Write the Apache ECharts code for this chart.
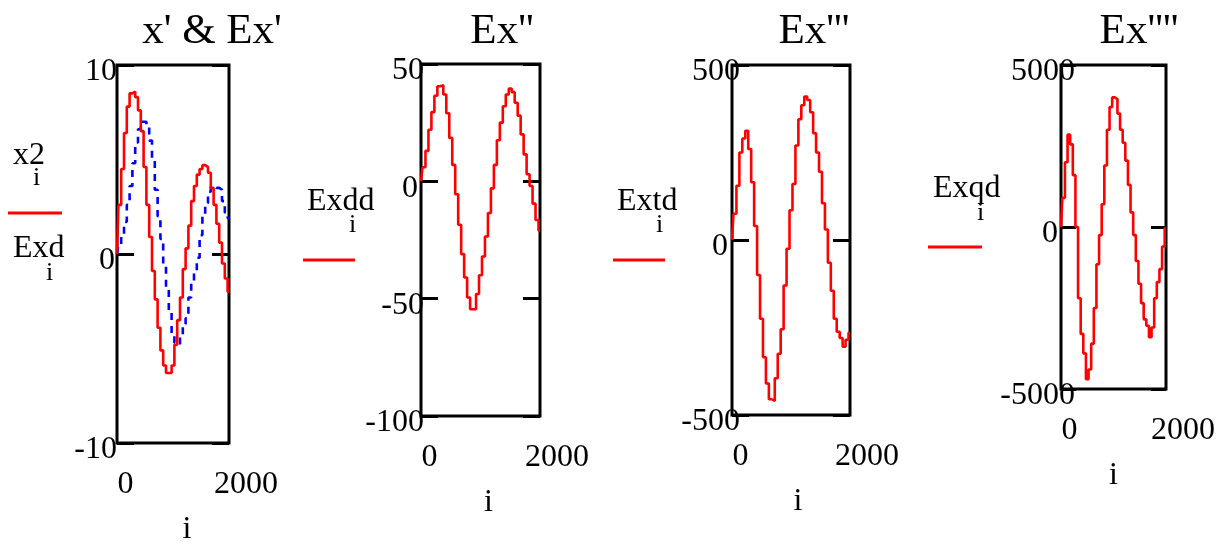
<html>
<head>
    <meta http-equiv="Content-Type" content="text/html; charset=utf-8" />
</head>
<script type="text/javascript" src="https://cdn.jsdelivr.net/npm/echarts@6/dist/echarts.min.js"></script>
<body style="margin:0">
<div id="main" style="width: 1229px;height:544px;"></div>
</body>
<script type="text/javascript">
    // index i
    var idx = [0, 50, 100, 150, 200, 250, 300, 350, 400, 450, 500, 550, 600, 650, 700, 750, 800, 850, 900, 950,
        1000, 1050, 1100, 1150, 1200, 1250, 1300, 1350, 1400, 1450, 1500, 1550, 1600, 1650, 1700, 1750, 1800,
        1850, 1900, 1950, 2000];

    // x' (x2) and Ex' (Exd)
    var x2 = [0, 2.6, 4.5, 6.4, 7.8, 8.5, 8.6, 8.3, 7.6, 6.5, 4.6, 2.6, 0.9, -0.9, -2.4, -3.9, -5.1, -5.9, -6.3, -6.3,
        -5.9, -4.8, -3.5, -2.3, -0.8, 0.3, 1.5, 2.8, 3.6, 4.2, 4.5, 4.7, 4.6, 4.3, 3.5, 2.6, 1.6, 0.6, -0.5, -1.3, -2.0];
    var exd = [0, 0.5, 1.0, 1.7, 2.6, 3.6, 4.8, 5.9, 6.6, 7.0, 7.0, 6.7, 6.0, 5.0, 3.4, 2.0, 0.8, -0.6, -1.8, -3.1,
        -4.2, -4.7, -4.8, -4.4, -3.7, -3.4, -2.3, -1.5, -0.9, -0.2, 1.0, 2.0, 2.7, 3.3, 3.6, 3.5, 3.5, 3.4, 2.8, 2.2, 1.9];
    // Ex''
    var exdd = [0, 6, 13, 22, 29.5, 36.5, 40.5, 41, 37, 29, 18.5, 7, -5.5, -18.5, -31, -41, -49.5, -54.5, -54.5, -48,
        -40, -32, -23.5, -13.5, -3, 7, 17.5, 25, 32, 37, 39.5, 38, 33.5, 28, 20, 11.5, 3, -2, -9.5, -16.5, -21];
    // Ex'''
    var extd = [0, 75, 155, 250, 290, 312, 260, 165, 40, -100, -225, -335, -410, -455, -460, -395, -325, -255, -130, -25,
        85, 160, 270, 345, 385, 410, 400, 365, 305, 250, 195, 105, 30, -65, -145, -225, -262, -280, -305, -285, -265];
    // Ex''''
    var exqd = [0, 900, 2000, 2850, 2550, 1600, 0, -2200, -3300, -3900, -4700, -4400, -3600, -2500, -1150, -250, 700,
        1900, 3000, 3700, 4000, 3950, 3500, 3000, 2600, 2050, 1300, 450, -250, -1050, -1750, -2350, -2850, -3050,
        -3400, -3100, -2200, -1700, -1300, -600, -30];

    var titles = ["x' & Ex'", "Ex''", "Ex'''", "Ex''''"];
    var yMin = [-10, -100, -500, -5000];
    var yMax = [10, 50, 500, 5000];
    var yStep = [10, 50, 500, 5000];

    var FONT = 'Liberation Serif';
    var boxes = [
        {left: 117, top: 65, width: 112, height: 378, tick: 17, margin: 0, zpad: 2, iPad: 28, titleX: 207},
        {left: 421, top: 64, width: 119, height: 352, tick: 17, margin: -3, zpad: 6, iPad: 16, titleX: 497},
        {left: 732, top: 65, width: 118, height: 350, tick: 17, margin: -8, zpad: 12, iPad: 14, titleX: 809},
        {left: 1061, top: 65, width: 105, height: 324, tick: 15, margin: -14, zpad: 17, iPad: 0, titleX: 1134}
    ];

    function pairs(ys) {
        var out = [];
        for (var k = 0; k < idx.length; k++) {
            out.push([idx[k], ys[k]]);
        }
        return out;
    }

    var grid = [], xAxis = [], yAxis = [], title = [];
    for (var g = 0; g < 4; g++) {
        var b = boxes[g];
        grid.push({
            left: b.left, top: b.top, width: b.width, height: b.height,
            containLabel: false, outerBoundsMode: 'none',
            show: true, borderColor: '#000', borderWidth: 3, backgroundColor: 'transparent'
        });
        title.push({
            text: titles[g], left: b.titleX, top: 5, textAlign: 'center',
            textStyle: {fontFamily: FONT, fontSize: 43, fontWeight: 'normal', color: '#000'}
        });
        xAxis.push({
            type: 'value', gridIndex: g, min: 0, max: 2000, interval: 2000,
            name: 'i', nameLocation: 'middle', nameGap: 71,
            nameTextStyle: {fontFamily: FONT, fontSize: 32, color: '#000', padding: [0, 0, 0, b.iPad]},
            axisLine: {show: false}, axisTick: {show: false}, splitLine: {show: false},
            axisLabel: {
                margin: 26, showMinLabel: true, showMaxLabel: true,
                fontFamily: FONT, fontSize: 32, color: '#000',
                formatter: function (v) { return v === 0 ? '{l|0}' : '{r|' + v + '}'; },
                rich: {
                    l: {fontFamily: FONT, fontSize: 32, color: '#000', padding: [0, 0, 0, 17]},
                    r: {fontFamily: FONT, fontSize: 32, color: '#000', padding: [0, 0, 0, 34]}
                }
            }
        });
    }
    // left y axes
    for (var g = 0; g < 4; g++) {
        var b = boxes[g];
        yAxis.push({
            type: 'value', gridIndex: g, min: yMin[g], max: yMax[g], interval: yStep[g],
            axisLine: {show: false}, splitLine: {show: false},
            axisTick: {show: true, inside: true, length: b.tick, lineStyle: {color: '#000', width: 3}},
            axisLabel: {
                margin: b.margin, showMinLabel: true, showMaxLabel: true,
                fontFamily: FONT, fontSize: 32, color: '#000',
                formatter: function (v) { return v === 0 ? '{z|0}' : '{a|' + v + '}'; },
                rich: {
                    a: {fontFamily: FONT, fontSize: 32, color: '#000', padding: [14, 0, 0, 0]},
                    z: {fontFamily: FONT, fontSize: 32, color: '#000', padding: [14, b.zpad, 0, 0]}
                }
            }
        });
    }
    // right y axes (ticks only)
    for (var g = 0; g < 4; g++) {
        yAxis.push({
            type: 'value', gridIndex: g, position: 'right', min: yMin[g], max: yMax[g], interval: yStep[g],
            axisLine: {show: false}, splitLine: {show: false}, axisLabel: {show: false},
            axisTick: {show: true, inside: true, length: boxes[g].tick, lineStyle: {color: '#000', width: 3}}
        });
    }

    function redLine(g, ys) {
        return {
            type: 'line', xAxisIndex: g, yAxisIndex: g, data: pairs(ys), step: 'middle',
            showSymbol: false, lineStyle: {color: '#ff0000', width: 2.6}, z: 3
        };
    }

    var series = [
        {
            type: 'line', xAxisIndex: 0, yAxisIndex: 0, data: pairs(exd), step: 'middle',
            showSymbol: false, lineStyle: {color: '#0000ff', width: 2.6, type: [7, 6]}, z: 2
        },
        redLine(0, x2),
        redLine(1, exdd),
        redLine(2, extd),
        redLine(3, exqd)
    ];

    // Mathcad style trace labels at the left of each plot
    function label(txt, x, y, size) {
        return {type: 'text', x: x, y: y, style: {text: txt, fill: '#000', font: size + 'px "' + FONT + '"', textVerticalAlign: 'middle'}};
    }
    function trace(x1, x2p, y) {
        return {type: 'line', shape: {x1: x1, y1: y, x2: x2p, y2: y}, style: {stroke: '#ff0000', lineWidth: 3}};
    }
    var graphic = [
        label('x2', 13, 156, 32), label('i', 33, 178, 26), trace(8, 62, 213),
        label('Exd', 13, 249, 32), label('i', 46, 273, 26),
        label('Exdd', 307, 202, 32), label('i', 349, 225, 26), trace(303, 355, 260),
        label('Extd', 617, 202, 32), label('i', 656, 225, 26), trace(613, 665, 260),
        label('Exqd', 933, 189, 32), label('i', 977, 213, 26), trace(928, 982, 247)
    ];

    var myChart = echarts.init(document.getElementById('main'));
    myChart.setOption({
        animation: false,
        backgroundColor: '#fff',
        title: title,
        grid: grid,
        xAxis: xAxis,
        yAxis: yAxis,
        series: series,
        graphic: graphic
    });
</script>
</html>
